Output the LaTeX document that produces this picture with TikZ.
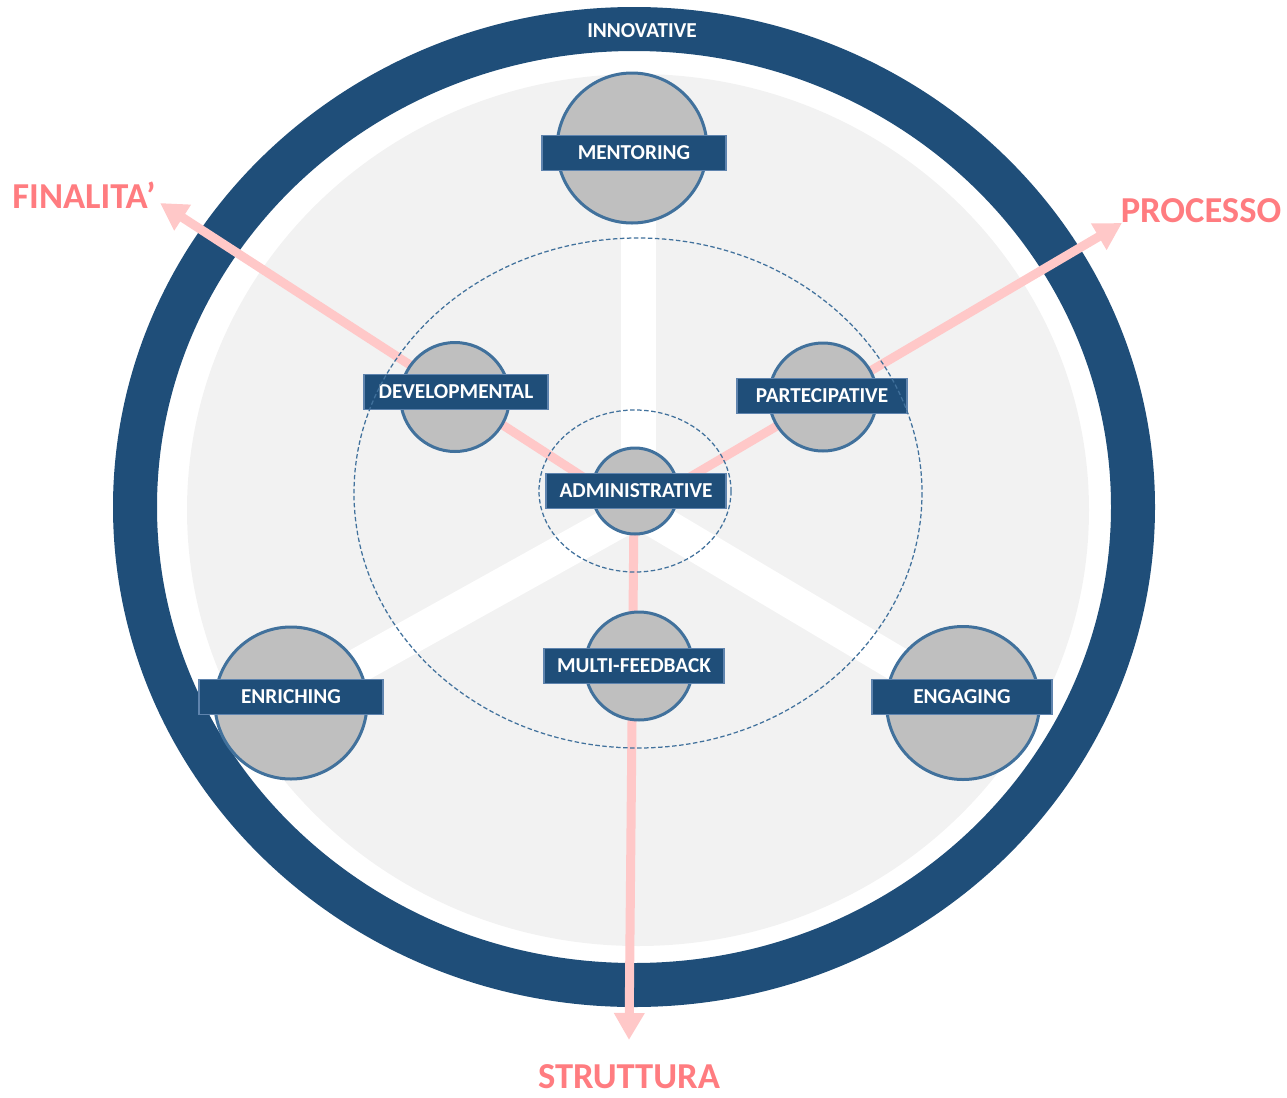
\documentclass[tikz,border=0pt]{standalone}
\usepackage{fontspec}
\setmainfont{Carlito}
\usetikzlibrary{
  arrows.meta,
}

\definecolor{ringblue}{HTML}{1F4E79}
\definecolor{edgeblue}{HTML}{41719C}
\definecolor{tagedge}{HTML}{5F84AE}
\definecolor{discgray}{HTML}{BFBFBF}
\definecolor{panelgray}{HTML}{F2F2F2}
\definecolor{axispink}{HTML}{FFC8C8}
\definecolor{labelpink}{HTML}{FF7C80}

\newcommand{\tagfont}{\fontsize{12.1}{14}\selectfont\bfseries}
\newcommand{\axisfont}{\fontsize{20.8}{24}\selectfont\bfseries}

\tikzset{
  disc/.style={
    circle,
    inner sep=0pt,
    draw=edgeblue,
    line width=0.6mm,
    fill=discgray
  },
  tag/.style={
    rectangle,
    inner sep=0pt,
    minimum height=7mm,
    text centered,
    draw=tagedge,
    line width=0.25mm,
    fill=ringblue,
    text=white,
    font=\tagfont
  },
  spoke/.style={
    draw=white,
    line width=7mm,
  },
  axis/.style={
    draw=axispink,
    line width=1.8mm,
    -{Triangle[length=5.4mm, width=5.8mm]},
  },
  guide/.style={
    draw=edgeblue,
    line width=0.25mm,
    dash pattern=on 0.9mm off 0.5mm,
  },
  axislabel/.style={
    inner sep=0pt,
    text=labelpink,
    font=\axisfont
  },
}

\begin{document}
\begin{tikzpicture}[x=0.2mm, y=-0.2mm]

  \useasboundingbox (0,0) rectangle (1287,1098);

  % centres
  \coordinate (hub) at (638,510);
  \coordinate (origin) at (634,510);
  \coordinate (cMent) at (632,148);
  \coordinate (cEnr) at (291,703);
  \coordinate (cEng) at (963,703);

  % outer ring and panel
  \draw[ringblue, line width=8.8mm] (634,507) ellipse [x radius=499, y radius=478];
  \fill[panelgray] (638,510) ellipse [x radius=451, y radius=436];

  % white spokes
  \draw[spoke] (hub) -- (hub |- cMent);
  \draw[spoke] (hub) -- (cEnr);
  \draw[spoke] (hub) -- (cEng);

  % axes
  \coordinate (tipF) at (160,203);
  \coordinate (tipP) at (1122,223);
  \coordinate (tipS) at (629,1040);
  \draw[axis] (origin) -- (tipF);
  \draw[axis] (origin) -- (tipP);
  \draw[axis] (origin) -- (tipS);

  % discs
  \node[disc, minimum size=30mm] (dMent) at (cMent) {};
  \node[disc, minimum size=30.4mm] (dEnr) at (cEnr) {};
  \node[disc, minimum size=30.6mm] (dEng) at (cEng) {};
  \node[disc, minimum size=21.8mm] (dDev) at (455,397) {};
  \node[disc, minimum size=21.6mm] (dPart) at (823,397) {};
  \node[disc, minimum size=21.6mm] (dMulti) at (639,666) {};
  \node[disc, minimum size=17.2mm] (dAdmin) at (635,491) {};

  % tags
  \node[tag, minimum width=36.8mm] (tMent) at (634,153) {MENTORING};
  \node[tag, minimum width=36.8mm] (tDev) at (456,392) {DEVELOPMENTAL};
  \node[tag, minimum width=34mm] (tPart) at (822,396) {PARTECIPATIVE};
  \node[tag, minimum width=36mm] (tAdmin) at (636,491) {ADMINISTRATIVE};
  \node[tag, minimum width=36mm] (tMulti) at (634,666) {MULTI-FEEDBACK};
  \node[tag, minimum width=36.8mm] (tEnr) at (291,697) {ENRICHING};
  \node[tag, minimum width=36mm] (tEng) at (962,697) {ENGAGING};

  % dashed guides
  \draw[guide] (635,491) ellipse [x radius=96, y radius=81];
  \draw[guide] (638,493) ellipse [x radius=284, y radius=255];

  % labels
  \node[text=white, font=\tagfont] (innovative) at (642,31) {INNOVATIVE};
  \node[axislabel] (finalita) at (84,195) {FINALITA’};
  \node[axislabel] (processo) at (1201,211) {PROCESSO};
  \node[axislabel] (struttura) at (629,1077) {STRUTTURA};

\end{tikzpicture}
\end{document}
